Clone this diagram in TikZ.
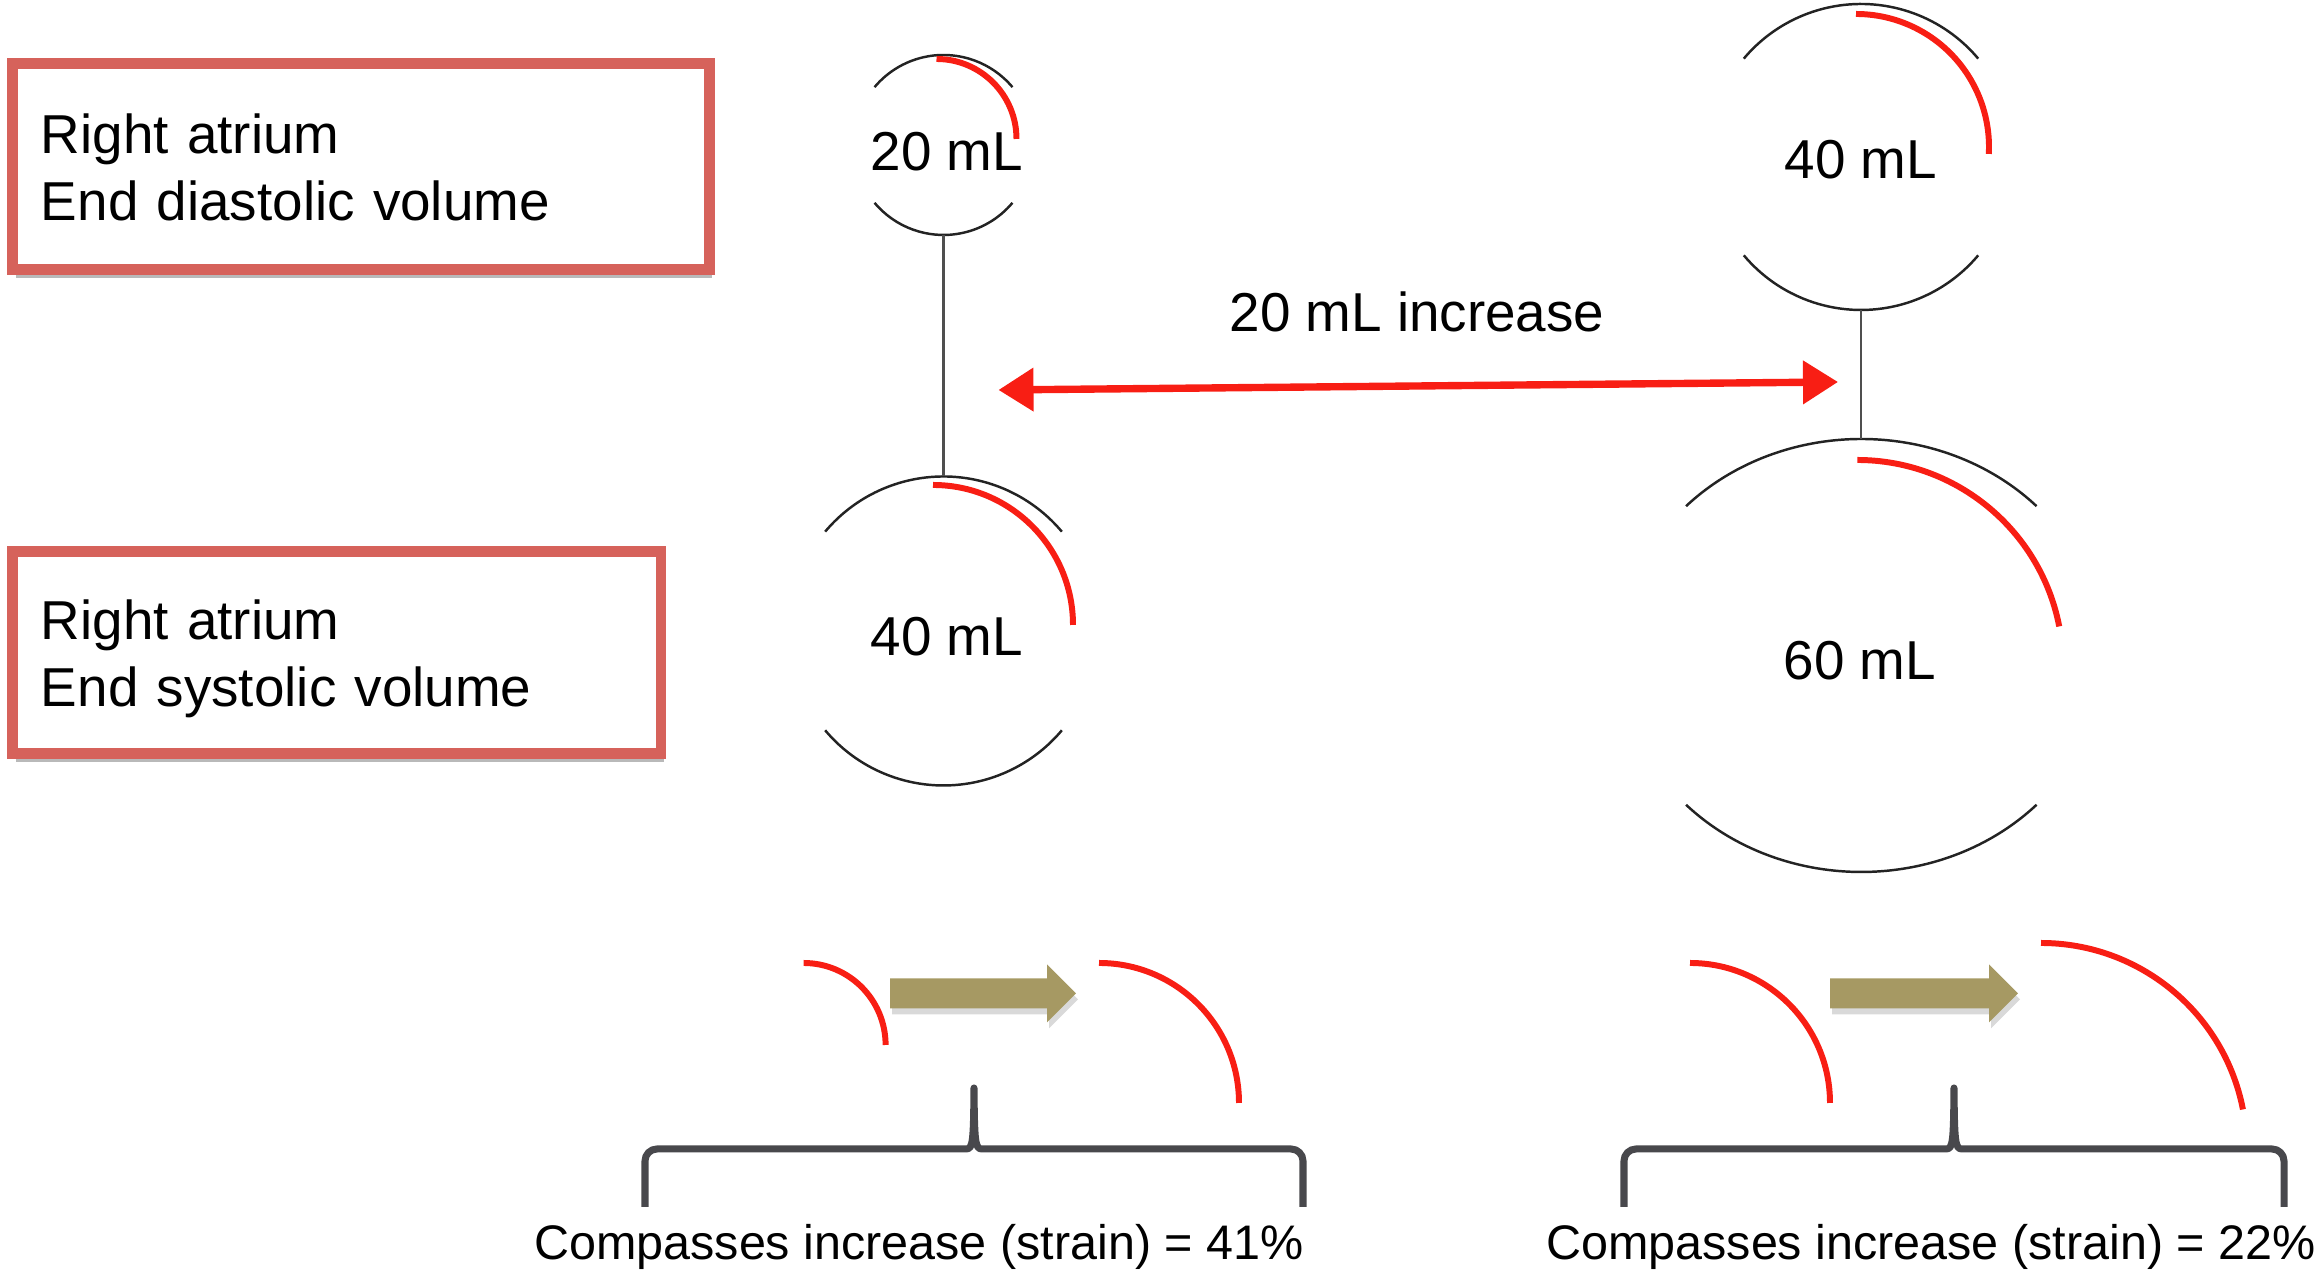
\documentclass[tikz,border=0pt]{standalone}
\usepackage{fontspec}
\setmainfont{Liberation Sans}
\usepackage{tikz}
\usetikzlibrary{arrows.meta, shadows}
\definecolor{boxred}{RGB}{214, 98, 91}
\definecolor{brightred}{RGB}{248, 30, 20}
\definecolor{khaki}{RGB}{166, 153, 99}
\definecolor{bracegray}{RGB}{72, 72, 76}
\definecolor{rimgray}{RGB}{35, 35, 35}

\tikzset{
  labelbox/.style={draw=boxred, line width=3.1pt, fill=white, anchor=north west,
    align=left, inner xsep=0.28cm, inner ysep=0pt, text depth=19pt,
    font=\fontsize{15.6}{19}\selectfont,
    drop shadow={shadow xshift=0.3mm, shadow yshift=-0.8mm, opacity=0.55}},
  volumelabel/.style={anchor=base, inner sep=0pt, font=\fontsize{15.6}{19}\selectfont},
  strainlabel/.style={anchor=base, inner sep=0pt, font=\fontsize{13.8}{16}\selectfont},
  rimarc/.style={rimgray, line width=0.7pt},
  wallarc/.style={brightred, line width=1.7pt},
  stemline/.style={rimgray!80, line width=0.6pt},
  strainbrace/.style={bracegray, line width=2pt, line join=round},
  tanarrow/.style={khaki, drop shadow={shadow xshift=0.2mm, shadow yshift=-0.6mm, opacity=0.3}}
}

\begin{document}
\begin{tikzpicture}[scale=1.0]

  \useasboundingbox (0, 0) rectangle (23.17, 12.77);

  \node[labelbox, text width=6.405cm, minimum height=2.06cm] (edvbox) at (0.075, 12.185)
    {Right atrium\\End diastolic volume};
  \node[labelbox, text width=5.92cm, minimum height=2.02cm] (esvbox) at (0.075, 7.305)
    {Right atrium\\End systolic volume};

  \coordinate (edvL) at (9.435, 11.32);
  \coordinate (esvL) at (9.435, 6.46);
  \coordinate (edvR) at (18.61, 11.20);
  \coordinate (esvR) at (18.613, 6.215);

  \draw[rimarc] (edvL) ++(40:0.9) arc[start angle=40, end angle=140, radius=0.9];
  \draw[rimarc] (edvL) ++(220:0.9) arc[start angle=220, end angle=320, radius=0.9];
  \draw[wallarc] (9.365, 12.18) arc[start angle=90, end angle=0, radius=0.8];
  \node[volumelabel] (edvLtext) at (9.47, 11.06) {20 mL};

  \draw[rimarc] (esvL) ++(40:1.545) arc[start angle=40, end angle=140, radius=1.545];
  \draw[rimarc] (esvL) ++(220:1.545) arc[start angle=220, end angle=320, radius=1.545];
  \draw[wallarc] (9.33, 7.92) arc[start angle=90, end angle=0, radius=1.4];
  \node[volumelabel] (esvLtext) at (9.47, 6.21) {40 mL};

  \draw[rimarc] (edvR) ++(40:1.53) arc[start angle=40, end angle=140, radius=1.53];
  \draw[rimarc] (edvR) ++(220:1.53) arc[start angle=220, end angle=320, radius=1.53];
  \draw[wallarc] (18.56, 12.63) arc[start angle=90, end angle=-3, radius=1.33];
  \node[volumelabel] (edvRtext) at (18.61, 10.98) {40 mL};

  \draw[rimarc] (esvR) ++(43.6:2.42 and 2.165)
    arc[start angle=43.6, end angle=136.4, x radius=2.42, y radius=2.165];
  \draw[rimarc] (esvR) ++(223.6:2.42 and 2.165)
    arc[start angle=223.6, end angle=316.4, x radius=2.42, y radius=2.165];
  \draw[wallarc] (18.573, 8.17) arc[start angle=90, end angle=11, radius=2.057];
  \node[volumelabel] (esvRtext) at (18.60, 5.977) {60 mL};

  \coordinate (edvLbot) at (9.435, 10.42);
  \coordinate (esvLtop) at (9.435, 8.005);
  \coordinate (edvRbot) at (18.61, 9.67);
  \coordinate (esvRtop) at (18.61, 8.38);
  \draw[stemline] (edvLbot) -- (esvLtop);
  \draw[stemline] (edvRbot) -- (esvRtop);

  \coordinate (incL) at (9.985, 8.87);
  \coordinate (incR) at (18.38, 8.95);
  \draw[<->, >={Triangle[length=3.5mm, width=4.2mm]}, brightred, line width=2.1pt] (incL) -- (incR);
  \node[volumelabel] (inctext) at (14.17, 9.45) {20 mL increase};

  \draw[wallarc] (8.036, 3.14) arc[start angle=90, end angle=0, radius=0.82];
  \fill[tanarrow] (8.90, 2.685) -- (10.47, 2.685) -- (10.47, 2.545) -- (10.76, 2.835)
    -- (10.47, 3.125) -- (10.47, 2.985) -- (8.90, 2.985) -- cycle;
  \draw[wallarc] (10.99, 3.14) arc[start angle=90, end angle=0, radius=1.4];

  \draw[wallarc] (16.90, 3.14) arc[start angle=90, end angle=0, radius=1.4];
  \fill[tanarrow] (18.30, 2.685) -- (19.89, 2.685) -- (19.89, 2.545) -- (20.18, 2.835)
    -- (19.89, 3.125) -- (19.89, 2.985) -- (18.30, 2.985) -- cycle;
  \draw[wallarc] (20.41, 3.34) arc[start angle=90, end angle=11, radius=2.057];

  \draw[strainbrace] (6.45, 0.70) -- (6.45, 1.16) to[out=90, in=180] (6.57, 1.28)
    -- (9.66, 1.28) .. controls (9.73, 1.28) and (9.735, 1.35) .. (9.74, 1.89)
    .. controls (9.745, 1.35) and (9.75, 1.28) .. (9.82, 1.28)
    -- (12.91, 1.28) to[out=0, in=90] (13.03, 1.16) -- (13.03, 0.70);
  \draw[strainbrace] (16.24, 0.70) -- (16.24, 1.16) to[out=90, in=180] (16.36, 1.28)
    -- (19.46, 1.28) .. controls (19.53, 1.28) and (19.535, 1.35) .. (19.54, 1.89)
    .. controls (19.545, 1.35) and (19.55, 1.28) .. (19.62, 1.28)
    -- (22.72, 1.28) to[out=0, in=90] (22.84, 1.16) -- (22.84, 0.70);

  \node[strainlabel] (leftstrain) at (9.19, 0.17) {Compasses increase (strain) = 41\%};
  \node[strainlabel] (rightstrain) at (19.31, 0.17) {Compasses increase (strain) = 22\%};

\end{tikzpicture}
\end{document}
